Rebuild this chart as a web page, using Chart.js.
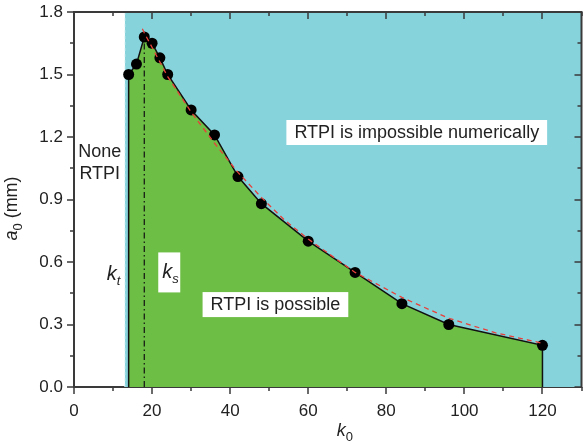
<!DOCTYPE html>
<html>
<head>
<meta charset="utf-8">
<script src="https://cdn.jsdelivr.net/npm/chart.js@4/dist/chart.umd.min.js"></script>
<style>
html,body{margin:0;padding:0;background:#fff;}
#wrap{width:587px;height:444px;}
</style>
</head>
<body>
<div id="wrap"><canvas id="c" width="587" height="444"></canvas></div>
<script>
// ---- data ----
const kData = [14, 16, 18, 20, 22, 24, 30, 36, 42, 48, 60, 72, 84, 96, 120];
const aData = [1.50, 1.55, 1.68, 1.65, 1.58, 1.50, 1.33, 1.21, 1.01, 0.88, 0.70, 0.55, 0.40, 0.30, 0.20];
const fitK = [17.5, 18, 24, 30, 36, 42, 48, 54, 60, 72, 84, 96, 108, 120];
const fitA = [1.72, 1.70, 1.49, 1.32, 1.17, 1.03, 0.91, 0.80, 0.71, 0.55, 0.43, 0.33, 0.26, 0.21];
const kT = 14;      // threshold k_t
const kS = 18;      // k_s
const kS_top = 1.68;
const regionK = [13, 130];   // numerically impossible region extent
const regionA = [0, 1.8];
const xTicks = [0, 20, 40, 60, 80, 100, 120];
const yTicks = [0.0, 0.3, 0.6, 0.9, 1.2, 1.5, 1.8];
const xMinor = [10, 30, 50, 70, 90, 110, 130];
const yMinor = [0.15, 0.45, 0.75, 1.05, 1.35, 1.65];

const BLUE = '#87d3dc';
const GREEN = '#6dbe45';
const FONT = "'Liberation Sans', Arial, sans-serif";

const blueData = [
  {x: regionK[0], y: regionA[0]}, {x: regionK[0], y: regionA[1]},
  {x: regionK[1], y: regionA[1]}, {x: regionK[1], y: regionA[0]}
];
const pts = kData.map((k, i) => ({x: k, y: aData[i]}));
const boundary = [{x: kData[0], y: 0}].concat(pts, [{x: kData[kData.length - 1], y: 0}]);
const fitData = fitK.map((k, i) => ({x: k, y: fitA[i]}));
const ksLine = [{x: kS, y: 0}, {x: kS, y: kS_top}];

const frame = {
  id: 'frame',
  afterDraw(chart) {
    const {ctx, chartArea: a, scales: {x, y}} = chart;
    ctx.save();
    ctx.strokeStyle = '#3a3a3a';
    ctx.lineWidth = 2;
    ctx.beginPath();
    ctx.moveTo(a.left - 1, a.top); ctx.lineTo(a.right, a.top); ctx.lineTo(a.right, a.bottom + 1);
    ctx.stroke();
    ctx.lineWidth = 1.5;
    const xt = (v, L) => {
      const p = Math.round(x.getPixelForValue(v));
      ctx.beginPath();
      ctx.moveTo(p, a.bottom); ctx.lineTo(p, a.bottom + L);
      ctx.moveTo(p, a.top); ctx.lineTo(p, a.top + L);
      ctx.stroke();
    };
    const yt = (v, L) => {
      const p = Math.round(y.getPixelForValue(v));
      ctx.beginPath();
      ctx.moveTo(a.left - L, p); ctx.lineTo(a.left, p);
      ctx.moveTo(a.right, p); ctx.lineTo(a.right - L, p);
      ctx.stroke();
    };
    xTicks.forEach(v => xt(v, 7)); xMinor.forEach(v => xt(v, 4));
    yTicks.forEach(v => yt(v, 7)); yMinor.forEach(v => yt(v, 4));

    // axis titles
    ctx.fillStyle = '#222';
    ctx.textBaseline = 'alphabetic';
    // x title k0
    const xc = (a.left + a.right) / 2 + 17;
    ctx.font = 'italic 18px ' + FONT;
    const wk = ctx.measureText('k').width;
    ctx.font = '13px ' + FONT;
    const w0 = ctx.measureText('0').width;
    let sx = xc - (wk + w0) / 2;
    ctx.font = 'italic 18px ' + FONT;
    ctx.fillText('k', sx, 436);
    ctx.font = '13px ' + FONT;
    ctx.fillText('0', sx + wk, 441);
    // y title a0 (mm)
    ctx.save();
    ctx.translate(17, (a.top + a.bottom) / 2 + 9);
    ctx.rotate(-Math.PI / 2);
    ctx.font = 'italic 18px ' + FONT;
    const wa = ctx.measureText('a').width;
    ctx.font = '13px ' + FONT;
    const ws = ctx.measureText('0').width;
    ctx.font = '18px ' + FONT;
    const wm = ctx.measureText(' (mm)').width;
    let st = -(wa + ws + wm) / 2;
    ctx.font = 'italic 18px ' + FONT;
    ctx.fillText('a', st, 0);
    ctx.font = '13px ' + FONT;
    ctx.fillText('0', st + wa, 5);
    ctx.font = '18px ' + FONT;
    ctx.fillText(' (mm)', st + wa + ws, 0);
    ctx.restore();
    ctx.restore();
  }
};

// annotation labels anchored in data coordinates
const notes = {
  id: 'notes',
  afterDatasetsDraw(chart) {
    const {ctx, scales: {x, y}} = chart;
    ctx.save();
    ctx.textBaseline = 'middle';
    ctx.textAlign = 'center';
    const box = (k, a, text) => {
      const cx = x.getPixelForValue(k), cy = y.getPixelForValue(a);
      ctx.font = '18px ' + FONT;
      const w = ctx.measureText(text).width;
      ctx.fillStyle = '#fff';
      ctx.fillRect(cx - w / 2 - 8, cy - 12, w + 16, 25);
      ctx.fillStyle = '#222';
      ctx.fillText(text, cx, cy + 1);
    };
    box(87.8, 1.224, 'RTPI is impossible numerically');
    box(51.6, 0.398, 'RTPI is possible');
    ctx.font = '18px ' + FONT;
    ctx.fillStyle = '#222';
    ctx.fillText('None', x.getPixelForValue(6.6), y.getPixelForValue(1.13));
    ctx.fillText('RTPI', x.getPixelForValue(6.6), y.getPixelForValue(1.02));
    // k_t and k_s
    ctx.textAlign = 'left';
    ctx.textBaseline = 'alphabetic';
    const sub = (k, a, s) => {
      const px = x.getPixelForValue(k), py = y.getPixelForValue(a);
      ctx.font = 'italic 20px ' + FONT;
      ctx.fillStyle = '#222';
      const w = ctx.measureText('k').width;
      ctx.fillText('k', px, py);
      ctx.font = 'italic 13px ' + FONT;
      ctx.fillText(s, px + w, py + 5);
    };
    const bx = x.getPixelForValue(24.4), by = y.getPixelForValue(0.55);
    ctx.fillStyle = '#fff';
    ctx.fillRect(bx - 11, by - 20, 22, 40);
    sub(8.4, 0.515, 't');
    sub(22.6, 0.525, 's');
    ctx.restore();
  }
};

new Chart(document.getElementById('c'), {
  type: 'scatter',
  data: {
    datasets: [
      {
        data: blueData, showLine: true, fill: 'origin', backgroundColor: BLUE,
        borderColor: 'rgba(230,246,248,0.9)', borderWidth: 1, borderDash: [3, 3],
        pointRadius: 0, order: 5, tension: 0
      },
      {
        data: boundary, showLine: true, fill: 'origin', backgroundColor: GREEN,
        borderColor: '#111', borderWidth: 1.5, pointRadius: 0, order: 4, tension: 0
      },
      {
        data: pts, showLine: false, pointRadius: 5.5, pointBackgroundColor: '#000',
        pointBorderColor: '#000', pointBorderWidth: 0, order: 3
      },
      {
        data: ksLine, showLine: true, fill: false, borderColor: '#111', borderWidth: 1.2,
        borderDash: [6, 3, 1.5, 3], pointRadius: 0, order: 2
      },
      {
        data: fitData, showLine: true, fill: false, borderColor: '#e8403a', borderWidth: 1.3,
        borderDash: [5, 4], pointRadius: 0, order: 1, tension: 0
      }
    ]
  },
  options: {
    responsive: false,
    animation: false,
    devicePixelRatio: 1,
    layout: {padding: {top: 12, right: 2, left: 0, bottom: 0}},
    plugins: {legend: {display: false}, tooltip: {enabled: false}},
    scales: {
      x: {
        type: 'linear', min: 0, max: 130,
        afterFit(s) { s.height = 57; s.paddingLeft = 0; s.paddingRight = 0; },
        afterBuildTicks(s) { s.ticks = xTicks.map(v => ({value: v})); },
        ticks: {font: {family: FONT, size: 17}, color: '#222', padding: 14, maxRotation: 0, autoSkip: false},
        grid: {display: true, drawOnChartArea: false, drawTicks: false},
        border: {display: true, color: '#3a3a3a', width: 2}
      },
      y: {
        type: 'linear', min: 0, max: 1.8,
        afterFit(s) { s.width = 74; s.paddingTop = 0; s.paddingBottom = 0; },
        afterBuildTicks(s) { s.ticks = yTicks.map(v => ({value: v})); },
        ticks: {font: {family: FONT, size: 17}, color: '#222', padding: 11,
          callback: v => Number(v).toFixed(1)},
        grid: {display: true, drawOnChartArea: false, drawTicks: false},
        border: {display: true, color: '#3a3a3a', width: 2}
      }
    }
  },
  plugins: [frame, notes]
});
</script>
</body>
</html>
